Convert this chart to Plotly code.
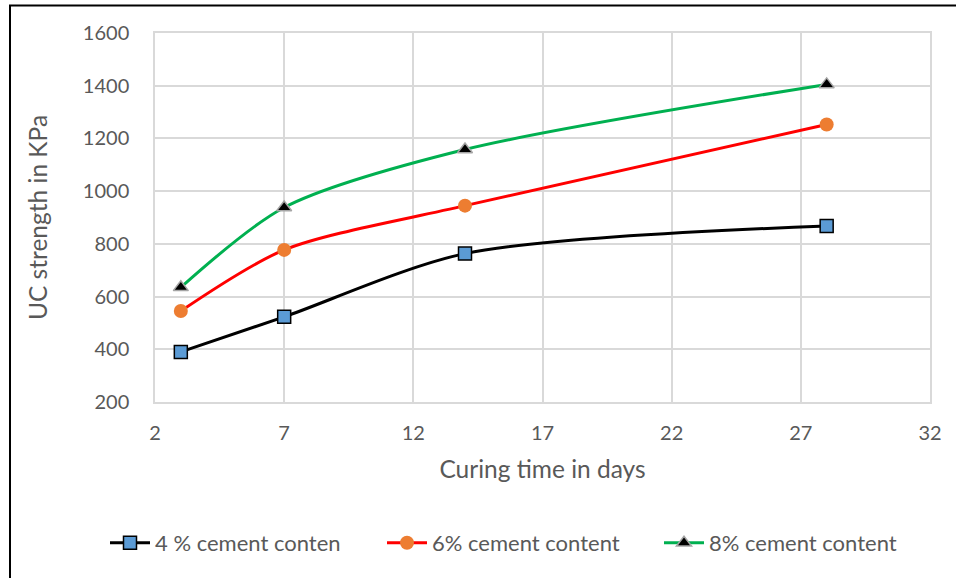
import plotly.graph_objects as go

days = [3, 7, 14, 28]
uc_4 = [390, 523, 763, 868]
uc_6 = [545, 777, 945, 1253]
uc_8 = [635, 938, 1158, 1405]
names = ["4 % cement conten", "6% cement content", "8% cement content"]

FONT = "Lato"
GRAY = "#595959"
GRID = "#D9D9D9"

fig = go.Figure()
fig.add_trace(go.Scatter(x=days, y=uc_4, name=names[0], mode="lines+markers",
                         line=dict(color="black", width=3, shape="spline", smoothing=0.8),
                         marker=dict(symbol="square", size=13, color="#5B9BD5",
                                     line=dict(color="black", width=1.5))))
fig.add_trace(go.Scatter(x=days, y=uc_6, name=names[1], mode="lines+markers",
                         line=dict(color="#FF0000", width=3, shape="spline", smoothing=0.8),
                         marker=dict(symbol="circle", size=14, color="#ED7D31",
                                     line=dict(color="#ED7D31", width=0))))
fig.add_trace(go.Scatter(x=days, y=uc_8, name=names[2], mode="lines+markers",
                         line=dict(color="#00B050", width=3, shape="spline", smoothing=0.8),
                         marker=dict(symbol="triangle-up", size=13, color="black",
                                     line=dict(color="#A5A5A5", width=1.5))))

L, R, T, B = 155, 930, 33, 402
W, H = 956, 578
pw, ph = R - L, B - T

def px(x):
    return (x - L) / pw

def py(y):
    return (B - y) / ph

fig.update_layout(
    width=W, height=H,
    margin=dict(l=L, r=W - R, t=T, b=H - B),
    paper_bgcolor="white", plot_bgcolor="white",
    font=dict(family=FONT, color=GRAY, size=20),
    showlegend=True,
    legend=dict(orientation="h", x=px(105), xanchor="left", y=py(543), yanchor="middle",
                font=dict(size=22, color=GRAY), itemwidth=40, tracegroupgap=0,
                entrywidth=222, entrywidthmode="pixels"),
    xaxis=dict(range=[2, 32], tickvals=[2, 7, 12, 17, 22, 27, 32], showgrid=True,
               gridcolor=GRID, gridwidth=1.5, zeroline=False, showline=True, mirror=True,
               linecolor=GRID, linewidth=1.5, ticks="", tickfont=dict(size=20, color=GRAY),
               ticklabelstandoff=12,
               title=dict(text="Curing time in days", font=dict(size=24.5, color=GRAY), standoff=18)),
    yaxis=dict(range=[200, 1600], tickvals=list(range(200, 1601, 200)), showgrid=True,
               gridcolor=GRID, gridwidth=1.5, zeroline=False, showline=True, mirror=True,
               linecolor=GRID, linewidth=1.5, ticks="", tickfont=dict(size=20, color=GRAY),
               ticklabelstandoff=20,
               title=dict(text="UC strength in KPa", font=dict(size=24.5, color=GRAY), standoff=28)),
)

fig.add_shape(type="rect", xref="paper", yref="paper",
              x0=px(10), x1=px(990), y0=py(5.5), y1=py(620),
              line=dict(color="black", width=2), fillcolor="rgba(0,0,0,0)", layer="above")

fig.write_html("out.html")
